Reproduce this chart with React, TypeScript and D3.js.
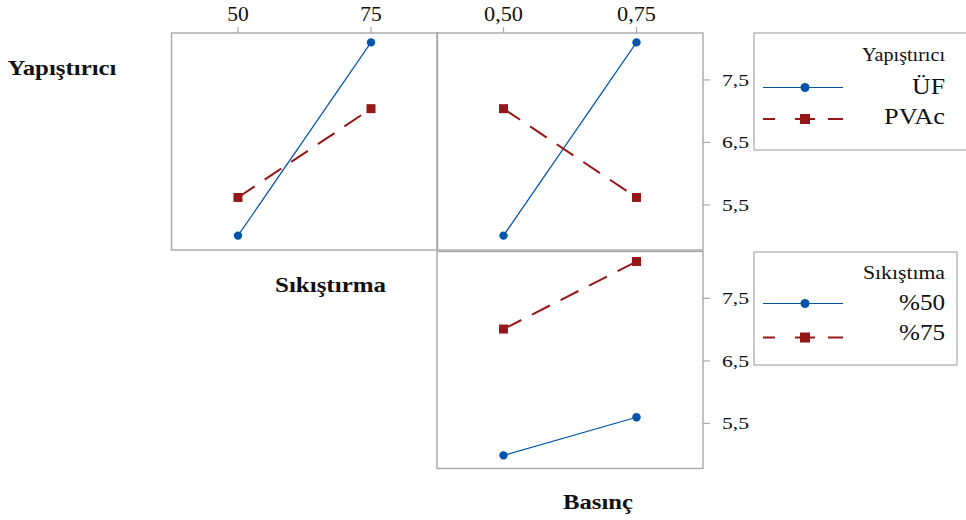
import React from "react";
import * as d3 from "d3";

// ---- data ----
const sikistirmaLevels = ["50", "75"];
const basincLevels = ["0,50", "0,75"];
const yapistiriciNames = ["ÜF", "PVAc"];
const sikistirmaNames = ["%50", "%75"];
const yTicks = [5.5, 6.5, 7.5];
const yTickLabels = ["5,5", "6,5", "7,5"];

const ufBySikistirma = [5.01, 8.1];
const pvacBySikistirma = [5.62, 7.04];
const ufByBasinc = [5.01, 8.1];
const pvacByBasinc = [7.04, 5.62];
const s50ByBasinc = [4.99, 5.6];
const s75ByBasinc = [7.01, 8.09];

// ---- style ----
const BLUE = "#0055a8";
const RED = "#961717";
const GRID = "#a8a8a8";
const FONT = "Liberation Serif";

const colX = [171.5, 437];
const rowY = [33, 251.5];
const PW = 266;
const PH = 217;

const yScale = d3.scaleLinear().domain([4.78, 8.25]).range([PH, 0]);

function STxt({ x, y, w, size, bold, anchor, children }: any) {
  let sx = x;
  if (anchor === "middle") sx = x - w / 2;
  if (anchor === "end") sx = x - w;
  return (
    <text
      x={sx}
      y={y}
      style={{ fontFamily: FONT, fontSize: size, fontWeight: bold ? 700 : 400 }}
      textLength={w}
      lengthAdjust="spacingAndGlyphs"
      fill="#111"
    >
      {children}
    </text>
  );
}

function Series({ levels, values, color, dashed, marker }: any) {
  const x = d3.scalePoint<string>().domain(levels).range([0, PW]).padding(0.5);
  const line = d3
    .line<number>()
    .x((_, i) => x(levels[i]) as number)
    .y((d) => yScale(d));
  return (
    <g>
      <path
        d={line(values) || ""}
        fill="none"
        stroke={color}
        strokeWidth={dashed ? 2 : 1.2}
        strokeDasharray={dashed ? "20,12" : undefined}
      />
      {values.map((v: number, i: number) =>
        marker === "circle" ? (
          <circle key={i} cx={x(levels[i])} cy={yScale(v)} r={4.2} fill={color} />
        ) : (
          <rect
            key={i}
            x={(x(levels[i]) as number) - 4.5}
            y={yScale(v) - 4.5}
            width={9}
            height={9}
            fill={color}
          />
        )
      )}
    </g>
  );
}

function Panel({ col, row, levels, a, b, topAxis, rightAxis }: any) {
  const x = d3.scalePoint<string>().domain(levels).range([0, PW]).padding(0.5);
  return (
    <g transform={`translate(${colX[col]},${rowY[row]})`}>
      <rect x={0} y={0} width={PW} height={PH} fill="none" stroke={GRID} strokeWidth={1.4} />
      {topAxis &&
        levels.map((l: string) => (
          <g key={l}>
            <line x1={x(l)} x2={x(l)} y1={-6} y2={0} stroke={GRID} strokeWidth={1.2} />
            <STxt x={x(l)} y={-12} w={l.length > 2 ? 39 : 21.5} size={20} anchor="middle">
              {l}
            </STxt>
          </g>
        ))}
      {rightAxis &&
        yTicks.map((t, i) => (
          <g key={t}>
            <line x1={PW} x2={PW + 7} y1={yScale(t)} y2={yScale(t)} stroke={GRID} strokeWidth={1.2} />
            <STxt x={PW + 19} y={yScale(t) + 6} w={27} size={17}>
              {yTickLabels[i]}
            </STxt>
          </g>
        ))}
      <Series levels={levels} values={a} color={BLUE} marker="circle" />
      <Series levels={levels} values={b} color={RED} dashed marker="square" />
    </g>
  );
}

function LegendItem({ y, kind, label, tw, ty }: any) {
  return (
    <g>
      {kind === "circle" ? (
        <>
          <line x1={763} x2={843} y1={y} y2={y} stroke={BLUE} strokeWidth={1.2} />
          <circle cx={805} cy={y} r={4.5} fill={BLUE} />
        </>
      ) : (
        <>
          <line
            x1={763}
            x2={843}
            y1={y}
            y2={y}
            stroke={RED}
            strokeWidth={2}
            strokeDasharray="12,20,20,13,15,100"
          />
          <rect x={800} y={y - 5} width={10} height={10} fill={RED} />
        </>
      )}
      <STxt x={945} y={ty} w={tw} size={23} anchor="end">
        {label}
      </STxt>
    </g>
  );
}

export default function App() {
  return (
    <svg width={966} height={520} style={{ position: "absolute", left: 0, top: 0, background: "#fff" }}>
      <rect width={966} height={520} fill="#fff" />
      <Panel col={0} row={0} levels={sikistirmaLevels} a={ufBySikistirma} b={pvacBySikistirma} topAxis />
      <Panel col={1} row={0} levels={basincLevels} a={ufByBasinc} b={pvacByBasinc} topAxis rightAxis />
      <Panel col={1} row={1} levels={basincLevels} a={s50ByBasinc} b={s75ByBasinc} rightAxis />

      <STxt x={7.5} y={75} w={109} size={21} bold>
        Yapıştırıcı
      </STxt>
      <STxt x={275} y={291.5} w={111} size={21} bold>
        Sıkıştırma
      </STxt>
      <STxt x={563} y={509} w={70} size={21} bold>
        Basınç
      </STxt>

      {/* legend 1 */}
      <rect x={754} y={33} width={300} height={117} fill="none" stroke={GRID} strokeWidth={1.2} />
      <STxt x={945} y={61} w={83} size={19} anchor="end">
        Yapıştırıcı
      </STxt>
      <LegendItem y={87.5} kind="circle" label={yapistiriciNames[0]} tw={33} ty={94} />
      <LegendItem y={119} kind="square" label={yapistiriciNames[1]} tw={61} ty={124} />

      {/* legend 2 */}
      <rect x={754} y={252} width={203} height={113} fill="none" stroke={GRID} strokeWidth={1.2} />
      <STxt x={945} y={279} w={82} size={19} anchor="end">
        Sıkıştıma
      </STxt>
      <LegendItem y={303.5} kind="circle" label={sikistirmaNames[0]} tw={46} ty={310} />
      <LegendItem y={337.5} kind="square" label={sikistirmaNames[1]} tw={46} ty={340} />
    </svg>
  );
}
